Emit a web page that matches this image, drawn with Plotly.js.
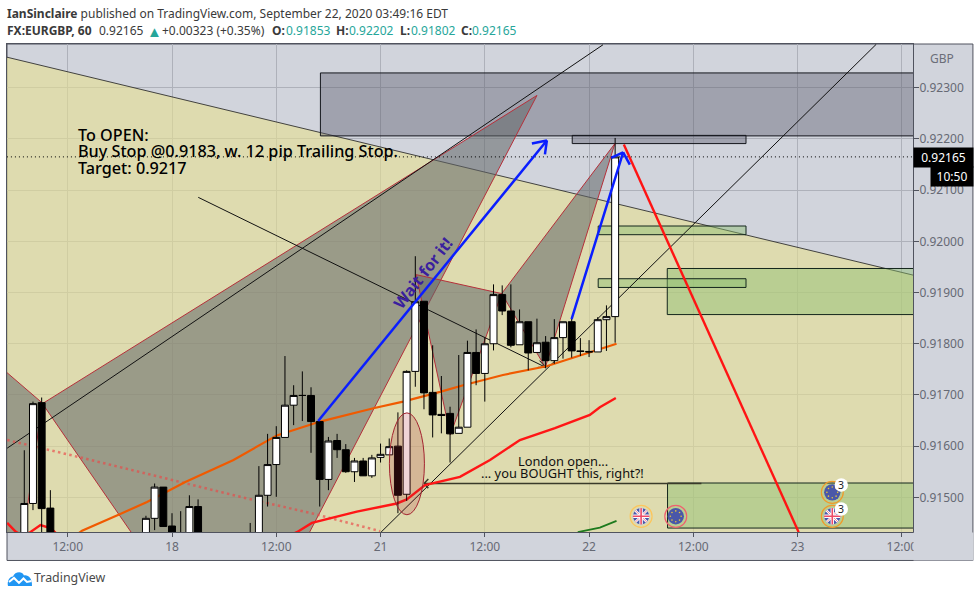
<!DOCTYPE html>
<html><head><meta charset="utf-8">
<script src="https://cdn.plot.ly/plotly-3.0.1.min.js"></script>
<style>html,body{margin:0;padding:0;background:#fff}#c{width:980px;height:597px}</style>
</head><body><div id="c"></div>
<script>
// hours counted from "18" (bars, weekend skipped) and prices
const hours =[-17,-16,-15,-14,-3,-2,-1,0,1,2,3,9,10,11,12,13,14,15,16,17,18,19,20,21,22,23,24,25,26,27,28,29,30,31,32,33,34,35,36,37,38,39,40,41,42,43,44,45,46,47,48,49,50,51];
const opens =[.91400,.91488,.91685,.91479,.91400,.91459,.91520,.91444,.91420,.91400,.91482,.91400,.91400,.91504,.91564,.91617,.91680,.91699,.91699,.91648,.91535,.91611,.91593,.91550,.91571,.91542,.91578,.91583,.91600,.91506,.91746,.91883,.91705,.91662,.91664,.91625,.91637,.91783,.91742,.91800,.91896,.91864,.91798,.91843,.91783,.91803,.91767,.91812,.91843,.91786,.91785,.91784,.91847,.91853];
const highs =[.91592,.91687,.91695,.91514,.91464,.91527,.91520,.91469,.91473,.91504,.91496,.91450,.91561,.91624,.91639,.91776,.91719,.91746,.91715,.91648,.91618,.91624,.91604,.91577,.91577,.91583,.91605,.91615,.91666,.91748,.91971,.91883,.91797,.91737,.91677,.91778,.91806,.91828,.91812,.91916,.91914,.91916,.91867,.91843,.91849,.91815,.91848,.91843,.91850,.91811,.91807,.91852,.91875,.92202];
const lows  =[.91380,.91475,.91417,.91380,.91390,.91436,.91443,.91390,.91390,.91390,.91390,.91390,.91390,.91482,.91501,.91617,.91641,.91649,.91587,.91482,.91514,.91577,.91548,.91530,.91542,.91538,.91568,.91583,.91469,.91493,.91716,.91672,.91617,.91625,.91568,.91625,.91637,.91719,.91687,.91787,.91856,.91793,.91798,.91748,.91783,.91752,.91761,.91771,.91773,.91776,.91774,.91784,.91786,.91802];
const closes=[.91488,.91683,.91478,.91397,.91459,.91520,.91443,.91407,.91410,.91482,.91400,.91420,.91504,.91564,.91617,.91680,.91699,.91699,.91648,.91535,.91610,.91593,.91550,.91571,.91542,.91577,.91584,.91599,.91504,.91746,.91882,.91704,.91661,.91660,.91624,.91637,.91783,.91742,.91800,.91896,.91864,.91797,.91843,.91782,.91802,.91767,.91812,.91843,.91786,.91785,.91784,.91847,.91853,.92165];

const orangeT=[-11.5,-10.35,-6.02,-2.87,1.53,7.08,12.07,17.05,23.18,26.6,30.85,33.52,38.09,43.11,51.16];
const orangeP=[.91420,.91435,.91467,.91491,.91530,.91573,.91621,.91648,.91674,.91687,.91706,.91719,.91739,.91756,.91800];
const redT=[-18.97,-18.0,-17.2,-16.4,-15.14,-14,-13.42,-12.5,-5,10,14.37,16.1,21.27,25.87,27.02,29.12,33.14,36.6,40.04,44.07,48.09,49.24,51.08];
const redP=[.91450,.91433,.91425,.91431,.91446,.91440,.91431,.91415,.91400,.91400,.91432,.91450,.91472,.91488,.91496,.91524,.91540,.91573,.91612,.91635,.91661,.91676,.91694];
const dottedT=[-18.97,-14.37,-10.54,0,7.85,16.28,23.95];
const dottedP=[.91612,.91594,.91578,.91534,.91501,.91468,.91434];
const greenT=[46.7,49.24,51.16];
const greenP=[.91432,.91441,.91454];

// drawings
const yellowT=[-22,88,88,-22];
const yellowP=[.92372,.91923,.91400,.91400];
const tri0T=[-23.2,-14.91,-17.2,-23.2];
const tri0P=[.91805,.91684,.91417,.91417];
const tri1T=[-14.91,42,7];
const tri1P=[.91683,.92285,.91144];
const tri2T=[28.09,37.94,32.03];
const tri2P=[.91935,.91898,.91622];
const tri3T=[37.94,50.97,42.97];
const tri3P=[.91898,.92191,.91754];
// [t0,t1,p0,p1]
const rectGrayBig=[17.08,87,.92206,.92329];
const rectGraySmall=[46.06,66.06,.92191,.92207];
const rectGreenA=[49.05,66.06,.92013,.92030];
const rectGreenB=[49.05,66.06,.91910,.91927];
const rectGreenC=[57,87,.91857,.91947];
const rectGreenD=[57.03,87,.91440,.91528];
const ellipse=[25.02,29.05,.91466,.91665];

const lineAT=[-18.97,49.6]; const lineAP=[.91596,.92384];
const lineBT=[24.06,81.05]; const lineBP=[.91432,.92385];
const lineCT=[3.02,43,42.1,null,43,42.3]; const lineCP=[.92086,.91754,.91754,null,.91754,.91767];
const londonT=[60.93,29,29.5,null,29,29.5]; const londonP=[.91527,.91527,.91536,null,.91527,.91518];
const priceT=[-19,85.3]; const priceP=[.92165,.92165];

const blue1T=[16.82,43.14,41.42,null,43.14,42.92];
const blue1P=[.91649,.92197,.92191,null,.92197,.92170];
const blue2T=[45.99,51.92,50.54,null,51.92,52.69];
const blue2P=[.91848,.92174,.92163,null,.92174,.92150];
const redLineT=[52,72.12];
const redLineP=[.92189,.91432];

const tickVals=[-12,0,12,24,36,48,60,72,84];
const tickText=['12:00','18','12:00','21','12:00','22','12:00','23','12:00'];
const priceTicks=[.915,.916,.917,.918,.919,.92,.921,.922,.923];

const FONT='"Noto Sans", sans-serif';
const XR=[-18.99,85.28], YR=[.914323,.923855];
const PX=x=>(x-6.5)/907, PY=y=>(532-y)/488.5;

function poly(t,p,fill,line,w){return {type:'scatter',mode:'lines',x:[...t,t[0]],y:[...p,p[0]],fill:'toself',fillcolor:fill,
  line:{color:line,width:w===undefined?1:w},hoverinfo:'skip',showlegend:false};}
function rect(r,fill,line){return poly([r[0],r[1],r[1],r[0]],[r[2],r[2],r[3],r[3]],fill,line,1);}
function ln(t,p,color,w,dash,xa,ya){return {type:'scatter',mode:'lines',x:t,y:p,xaxis:xa||'x',yaxis:ya||'y',connectgaps:false,
  line:{color:color,width:w,dash:dash||'solid'},hoverinfo:'skip',showlegend:false};}

const GRAY='rgba(99,102,103,0.55)', REDL='#b5303a';
const traces=[
 poly(yellowT,yellowP,'rgba(229,222,147,0.62)','rgba(40,40,40,0.85)',1),
 rect(rectGrayBig,'rgba(87,88,105,0.4)','#14161c'),
 rect(rectGraySmall,'rgba(87,88,105,0.4)','#14161c'),
 rect(rectGreenC,'rgba(140,190,110,0.45)','#14261c'),
 rect(rectGreenD,'rgba(140,190,110,0.45)','#14261c'),
 rect(rectGreenA,'rgba(140,190,110,0.45)','#14261c'),
 rect(rectGreenB,'rgba(140,190,110,0.45)','#14261c'),
 poly(tri0T,tri0P,GRAY,REDL),
 poly(tri1T,tri1P,GRAY,REDL),
 poly(tri2T,tri2P,GRAY,REDL),
 poly(tri3T,tri3P,GRAY,REDL),
 ln(lineAT,lineAP,'#111',1),
 ln(lineBT,lineBP,'#111',1),
 ln(lineCT,lineCP,'#111',1),
 ln(londonT,londonP,'#3a3a2a',1.5),
 ln(priceT,priceP,'#000',1,'1px,3px'),
 ln(dottedT,dottedP,'rgba(235,70,70,0.65)',2.5,'2.5px,3.3px'),
 ln(orangeT,orangeP,'#f05a00',2.2),
 ln(redT,redP,'#ff1616',2.4),
 ln(greenT,greenP,'#1d7a1d',1.8),
 {type:'candlestick',x:hours,open:opens,high:highs,low:lows,close:closes,xaxis:'x2',yaxis:'y2',whiskerwidth:0,
  increasing:{line:{color:'#000',width:1},fillcolor:'#fff'},
  decreasing:{line:{color:'#000',width:1},fillcolor:'#000'},hoverinfo:'skip',showlegend:false},
 ln(blue1T,blue1P,'#0a1eff',2.5,null,'x3','y3'),
 ln(blue2T,blue2P,'#0a1eff',2.5,null,'x3','y3'),
 ln(redLineT,redLineP,'#ff1414',2.4,null,'x3','y3')
];

function note(text,x,y,opt){return Object.assign({text:text,xref:'paper',yref:'paper',x:PX(x),y:PY(y),xanchor:'left',yanchor:'middle',showarrow:false,borderpad:0,
  font:{family:FONT,size:12,color:'#333'}},opt||{});}
const fnt=(s,c,w)=>({family:FONT,size:s,color:c,weight:w||400});
const TEAL='#26a69a', HD='#3a3a3a';
const annotations=[
 note('<b>IanSinclaire</b> published on TradingView.com, September 22, 2020 03:49:16 EDT',5,12.5,{font:fnt(12,HD)}),
 note('<b>FX:EURGBP, 60</b>',5,30,{font:fnt(12,HD)}),
 note('0.92165',97.5,30,{font:fnt(12,HD)}),
 note('▲',146,30,{font:fnt(15,TEAL)}),
 note('+0.00323 (+0.35%)',160.5,30,{font:fnt(12,HD)}),
 note('<b>O:</b>',270.5,30,{font:fnt(12,HD)}),note('0.91853',284.5,30,{font:fnt(12,TEAL)}),
 note('<b>H:</b>',334.5,30,{font:fnt(12,HD)}),note('0.92202',348,30,{font:fnt(12,TEAL)}),
 note('<b>L:</b>',398.5,30,{font:fnt(12,HD)}),note('0.91802',409.5,30,{font:fnt(12,TEAL)}),
 note('<b>C:</b>',459.5,30,{font:fnt(12,HD)}),note('0.92165',471.5,30,{font:fnt(12,TEAL)}),
 note('GBP',930,58,{font:fnt(12,'#6b6e79')}),
 note('To OPEN:',77,134.5,{font:fnt(16.2,'#000',500)}),
 note('Buy Stop @0.9183, w. 12 pip Trailing Stop.',77,151,{font:fnt(16.2,'#000',500)}),
 note('Target: 0.9217',77,167.5,{font:fnt(16.2,'#000',500)}),
 note('<b>Wait for it!</b>',423,273,{xanchor:'center',textangle:-52,font:fnt(16,'#3a1f9e')}),
 note('London open...',563,461,{xanchor:'center',font:fnt(12.8,'#111')}),
 note('... you BOUGHT this, right?!',563,473,{xanchor:'center',font:fnt(12.8,'#111')}),
 note('3',841.7,485,{xanchor:'center',font:fnt(10.5,'#222')}),
 note('3',841.7,509,{xanchor:'center',font:fnt(10.5,'#222')}),
 note(' ',914,546.5,{width:59,height:27,bgcolor:'#d1d4dc',font:fnt(10,'#d1d4dc')}),
 note('0.92165',914,156.7,{width:59,height:19,bgcolor:'#000',align:'center',font:fnt(12,'#fff')}),
 note('10:50',931,176.2,{width:42,height:19,bgcolor:'#000',align:'center',font:fnt(12,'#fff')}),
 note('TradingView',32.5,578,{font:fnt(12.4,'#4a4a4a')})
];

const uk=r=>`<svg xmlns='http://www.w3.org/2000/svg' width='48' height='48' viewBox='0 0 24 24'><circle cx='12' cy='12' r='11' fill='#ffffff00' stroke='${r}' stroke-width='1.2'/><circle cx='12' cy='12' r='8.2' fill='#fff'/><clipPath id='a'><circle cx='12' cy='12' r='8.2'/></clipPath><g clip-path='url(#a)'><rect width='24' height='24' fill='#4a57a8'/><path d='M3 3L21 21M21 3L3 21' stroke='#fff' stroke-width='2.4'/><path d='M3 3L21 21M21 3L3 21' stroke='#ee6b80' stroke-width='.8'/><path d='M12 3V21M3 12H21' stroke='#fff' stroke-width='3.4'/><path d='M12 3V21M3 12H21' stroke='#ee4a66' stroke-width='1.6'/></g></svg>`;
const eu=r=>`<svg xmlns='http://www.w3.org/2000/svg' width='48' height='48' viewBox='0 0 24 24'><circle cx='12' cy='12' r='11' fill='#ffffff00' stroke='${r}' stroke-width='1.2'/><circle cx='12' cy='12' r='8.2' fill='#4a57a8'/><g fill='#e8c53a'><circle cx='12' cy='6.6' r='.8'/><circle cx='12' cy='17.4' r='.8'/><circle cx='6.6' cy='12' r='.8'/><circle cx='17.4' cy='12' r='.8'/><circle cx='8.2' cy='8.2' r='.8'/><circle cx='15.8' cy='8.2' r='.8'/><circle cx='8.2' cy='15.8' r='.8'/><circle cx='15.8' cy='15.8' r='.8'/></g></svg>`;
const badge=`<svg xmlns='http://www.w3.org/2000/svg' width='28' height='28'><circle cx='14' cy='14' r='13.5' fill='#fff'/></svg>`;
const logo=`<svg xmlns='http://www.w3.org/2000/svg' width='52' height='32' viewBox='0 0 52 32'><path d='M2 31C0 22 4 13 12 12 15 3 30 0 34 10 42 8 51 16 50 31Z' fill='#2196f3'/><path d='M4 23L14 15 24 25 33 16 40 23 49 21' fill='none' stroke='#fff' stroke-width='4'/></svg>`;
const uri=s=>'data:image/svg+xml;utf8,'+encodeURIComponent(s);
function img(s,cx,cy,w,h){return {source:uri(s),xref:'paper',yref:'paper',x:PX(cx-w/2),y:PY(cy-h/2),sizex:w/907,sizey:h/488.5,xanchor:'left',yanchor:'top',layer:'above',sizing:'stretch'};}
const images=[
 img(uk('#fdc65c'),641.3,516.3,24,24), img(eu('#f0606f'),676,516.3,24,24),
 img(eu('#f09a2a'),832.7,492.3,24,24), img(uk('#f09a2a'),832.7,516.3,24,24),
 img(badge,841.7,485,14,14), img(badge,841.7,509,14,14),
 img(logo,19.5,578.5,26,16)
];

const hid={visible:false,range:XR,autorange:false,fixedrange:true};
const layout={
 width:980,height:597,paper_bgcolor:'#fff',plot_bgcolor:'#d1d4dc',
 margin:{l:6.5,r:66.5,t:43.5,b:65,pad:0},showlegend:false,boxgap:0.2,boxgroupgap:0,hovermode:false,dragmode:false,
 font:{family:FONT,size:12,color:'#666974'},
 xaxis:{range:XR,autorange:false,fixedrange:true,tickmode:'array',tickvals:tickVals,ticktext:tickText,ticks:'outside',ticklen:4,tickcolor:'#50535e',tickwidth:1,
   showgrid:true,gridcolor:'#aeb1ba',gridwidth:1,zeroline:false,showline:true,linecolor:'#50535e',linewidth:1,mirror:true,tickfont:{family:FONT,size:12,color:'#666974'},rangeslider:{visible:false}},
 yaxis:{range:YR,autorange:false,fixedrange:true,side:'right',tickmode:'array',tickvals:priceTicks,tickformat:'.5f',ticks:'outside',ticklen:5,ticklabelstandoff:-2,tickcolor:'#50535e',tickwidth:1,
   showgrid:true,gridcolor:'#aeb1ba',gridwidth:1,zeroline:false,showline:true,linecolor:'#50535e',linewidth:1,mirror:true,tickfont:{family:FONT,size:12,color:'#666974'}},
 xaxis2:Object.assign({overlaying:'x',anchor:'y2',rangeslider:{visible:false}},hid),
 yaxis2:{visible:false,range:YR,autorange:false,fixedrange:true,overlaying:'y',anchor:'x2'},
 xaxis3:Object.assign({overlaying:'x',anchor:'y3'},hid),
 yaxis3:{visible:false,range:YR,autorange:false,fixedrange:true,overlaying:'y',anchor:'x3'},
 shapes:[
  {type:'rect',xref:'paper',yref:'paper',x0:0,x1:PX(973.5),y0:PY(560.5),y1:1,layer:'below',fillcolor:'#d1d4dc',line:{color:'#50535e',width:1}},
  {type:'circle',xref:'x',yref:'y',x0:ellipse[0],x1:ellipse[1],y0:ellipse[2],y1:ellipse[3],layer:'above',fillcolor:'rgba(178,40,51,0.2)',line:{color:'#a3232f',width:1}}
 ],
 annotations:annotations,images:images
};
Plotly.newPlot('c',traces,layout,{displayModeBar:false,staticPlot:true});
</script></body></html>
